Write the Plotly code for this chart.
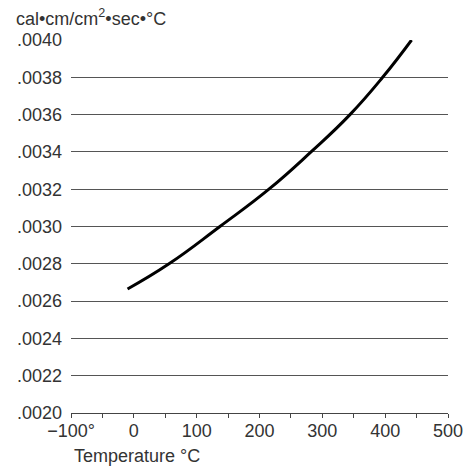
import plotly.graph_objects as go

# Data
temperature_c = [-10, 56, 137, 215, 282, 344, 396, 442]
conductivity = [0.002665, 0.0028, 0.0030, 0.0032, 0.0034, 0.0036, 0.0038, 0.0040]

x_tick_vals = [-100, 0, 100, 200, 300, 400, 500]
x_tick_text = ["\u2212100\u00b0", "0", "100", "200", "300", "400", "500"]
y_tick_vals = [0.0020, 0.0022, 0.0024, 0.0026, 0.0028, 0.0030, 0.0032, 0.0034, 0.0036, 0.0038, 0.0040]
y_tick_text = [".0020", ".0022", ".0024", ".0026", ".0028", ".0030", ".0032", ".0034", ".0036", ".0038", ".0040"]

FONT = "Liberation Sans, Arial, Helvetica, sans-serif"
TXT = "#333333"

fig = go.Figure()
fig.add_trace(go.Scatter(
    x=temperature_c, y=conductivity, mode="lines",
    line=dict(color="black", width=3, shape="spline", smoothing=1.3),
    showlegend=False, hoverinfo="skip",
))

fig.update_layout(
    width=475, height=467,
    margin=dict(l=71, r=20, t=40, b=54),
    paper_bgcolor="white", plot_bgcolor="white",
    font=dict(family=FONT, size=18, color=TXT),
    xaxis=dict(
        range=[-100, 500], tickvals=x_tick_vals, ticktext=x_tick_text,
        showgrid=False, zeroline=False,
        showline=True, linecolor="#444", linewidth=1,
        ticks="outside", ticklen=4, tickcolor="#444", tickwidth=1,
        minor=dict(dtick=50, tick0=0, ticks="outside", ticklen=4, tickcolor="#444", showgrid=False),
        tickfont=dict(size=18, color=TXT), ticklabelstandoff=-3,
    ),
    yaxis=dict(
        range=[0.0020, 0.0040], tickvals=y_tick_vals, ticktext=y_tick_text,
        showgrid=True, gridcolor="#555", gridwidth=1,
        zeroline=False, showline=False, ticks="", ticklabelstandoff=8,
        tickfont=dict(size=18, color=TXT),
    ),
    annotations=[
        dict(text="cal\u2022cm/cm<sup>2</sup>\u2022sec\u2022\u00b0C", xref="paper", yref="paper",
             x=-71/384, y=1 + 22/373, xanchor="left", yanchor="middle", xshift=13,
             showarrow=False, font=dict(size=18, color=TXT)),
        dict(text="Temperature \u00b0C", xref="paper", yref="paper",
             x=0, y=-43/373, xanchor="left", yanchor="middle", xshift=1,
             showarrow=False, font=dict(size=18, color=TXT)),
    ],
)

fig.write_html("out.html")
